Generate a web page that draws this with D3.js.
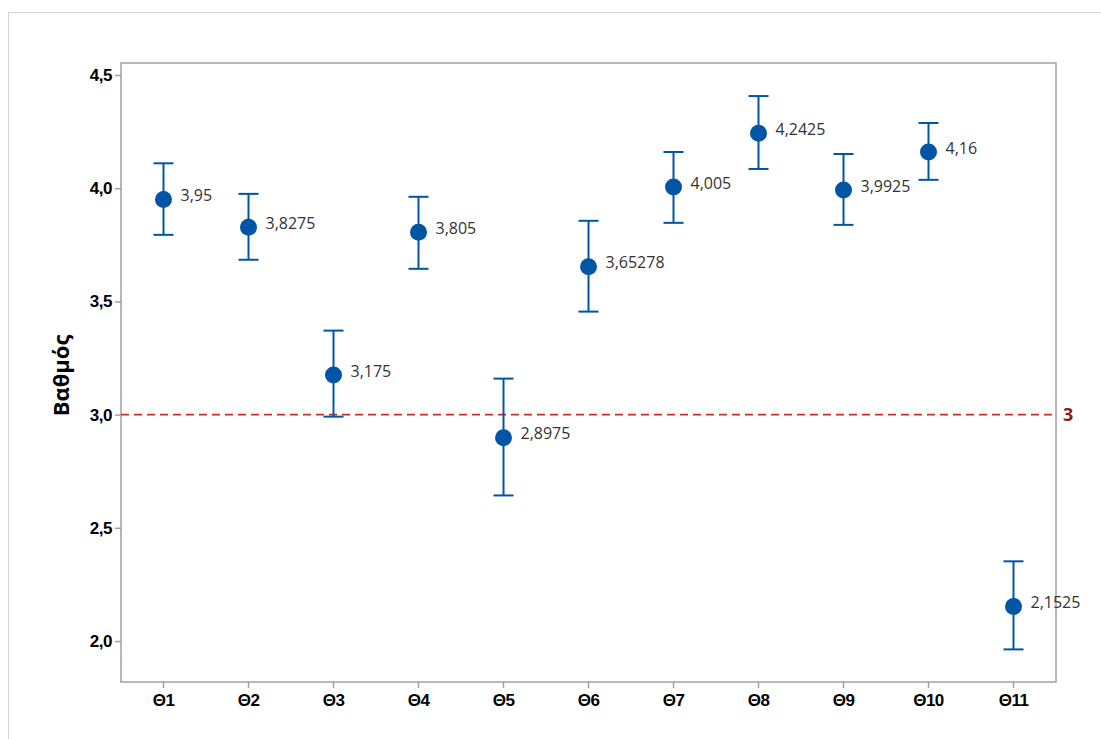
<!DOCTYPE html>
<html><head><meta charset="utf-8">
<script src="https://cdn.jsdelivr.net/npm/d3@7"></script>
<style>body{margin:0;background:#fff;}svg{display:block;font-family:"Open Sans","Noto Sans",sans-serif;}</style>
</head><body>
<svg id="c" width="1101" height="739"></svg>
<script>
const categories = ["Θ1","Θ2","Θ3","Θ4","Θ5","Θ6","Θ7","Θ8","Θ9","Θ10","Θ11"];
const means = [3.95, 3.8275, 3.175, 3.805, 2.8975, 3.65278, 4.005, 4.2425, 3.9925, 4.16, 2.1525];
const meanLabels = ["3,95","3,8275","3,175","3,805","2,8975","3,65278","4,005","4,2425","3,9925","4,16","2,1525"];
const upper = [4.11, 3.975, 3.371, 3.962, 3.159, 3.856, 4.160, 4.407, 4.151, 4.288, 2.352];
const lower = [3.794, 3.684, 2.991, 3.644, 2.643, 3.455, 3.847, 4.085, 3.838, 4.037, 1.963];
const yTicks = [2.0, 2.5, 3.0, 3.5, 4.0, 4.5];
const refValue = 3;
const yTitle = "Βαθμός";

const svg = d3.select("#c");
const L = 121, R = 1056, T = 63, B = 682;
const blue = "#0055a5";

svg.append("rect").attr("x",8.5).attr("y",12.5).attr("width",1100).attr("height",730)
  .attr("fill","none").attr("stroke","#d4d4d4");

const x = d3.scaleBand().domain(categories).range([L,R]).padding(0);
const y = d3.scaleLinear().domain([1.819, 4.553]).range([B,T]);
const cx = d => x(d) + x.bandwidth()/2;

// y axis
const ya = svg.append("g").attr("transform",`translate(${L},0)`)
  .call(d3.axisLeft(y).tickValues(yTicks).tickSize(6).tickPadding(3).tickFormat(d => d3.format(".1f")(d).replace(".",",")));
ya.select(".domain").remove();
ya.selectAll("line").attr("stroke","#a0a0a0").attr("stroke-width",1.5);
ya.selectAll("text").attr("font-size",17).attr("font-weight","bold").attr("fill","#000").attr("letter-spacing","-0.5");

// x axis
const xa = svg.append("g").attr("transform",`translate(0,${B})`)
  .call(d3.axisBottom(x).tickSize(6).tickPadding(6));
xa.select(".domain").remove();
xa.selectAll("line").attr("stroke","#a0a0a0").attr("stroke-width",1.5);
xa.selectAll("text").attr("font-size",17).attr("font-weight","bold").attr("fill","#000").attr("letter-spacing","-0.5");

// frame
svg.append("rect").attr("x",L).attr("y",T).attr("width",R-L).attr("height",B-T)
  .attr("fill","none").attr("stroke","#a0a0a0").attr("stroke-width",1.5);

// reference line
svg.append("line").attr("x1",L).attr("x2",R).attr("y1",y(refValue)).attr("y2",y(refValue))
  .attr("stroke","#cf2a2a").attr("stroke-width",1.6).attr("stroke-dasharray","8,5");
svg.append("text").attr("x",R+7).attr("y",y(refValue)).attr("dy","0.36em")
  .attr("font-size",18).attr("font-weight","bold").attr("fill","#8b1a1a").text(refValue);

// y title
svg.append("text").attr("transform",`translate(69,${(T+B)/2 + 3}) rotate(-90)`)
  .attr("text-anchor","middle").attr("font-size",22).attr("font-weight","bold").attr("fill","#000").text(yTitle);

// error bars
const g = svg.append("g");
categories.forEach((c,i) => {
  const px = cx(c);
  g.append("line").attr("x1",px).attr("x2",px).attr("y1",y(upper[i])).attr("y2",y(lower[i]))
    .attr("stroke",blue).attr("stroke-width",2);
  [upper[i], lower[i]].forEach(v => g.append("line").attr("x1",px-10).attr("x2",px+10)
    .attr("y1",y(v)).attr("y2",y(v)).attr("stroke",blue).attr("stroke-width",2));
  g.append("circle").attr("cx",px).attr("cy",y(means[i])).attr("r",8.5).attr("fill",blue);
  g.append("text").attr("x",px+17).attr("y",y(means[i])).attr("dy","0.1em")
    .attr("font-size",16).attr("fill","#333").text(meanLabels[i]);
});
</script>
</body></html>
